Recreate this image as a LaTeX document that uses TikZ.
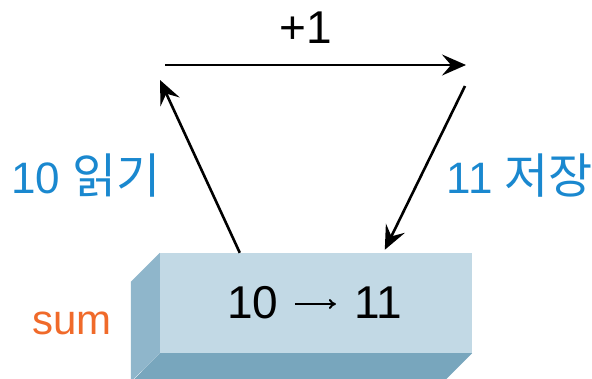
\documentclass[tikz,border=0pt]{standalone}
\usepackage{fontspec}
\setmainfont{Liberation Sans}
\newfontfamily\kofont{Noto Sans CJK KR}
\usetikzlibrary{arrows.meta}

\definecolor{facefront}{HTML}{C2D9E5}
\definecolor{faceleft}{HTML}{8FB6CB}
\definecolor{facebottom}{HTML}{78A6BD}
\definecolor{labelblue}{HTML}{1A88CF}
\definecolor{labelorange}{HTML}{F06A2A}

\tikzset{
  flow/.style={line width=2.6pt, -{Stealth[length=24pt, width=21pt, inset=9pt]}},
  steplabel/.style={text=labelblue, anchor=base, font=\fontsize{44}{48}\selectfont},
  digits/.style={anchor=base, font=\fontsize{46}{50}\selectfont, inner sep=0pt},
}

\begin{document}
\begin{tikzpicture}[x=1pt, y=-1pt]
  \clip (0,0) rectangle (592,378);

  % Draw the memory cell
  \node[fill=facefront, minimum width=312pt, minimum height=100pt, inner sep=0pt]
    (cell) at (316,303) {};
  \fill[faceleft] (cell.north west) -- ++(-29,29) -- ++(0,100) -- (cell.south west) -- cycle;
  \fill[facebottom] (cell.south west) -- (cell.south east) -- ++(-29,29) -- ++(-312,0) -- cycle;
  \node[digits] (old) at (253,318) {10};
  \node[digits] (new) at (378,318) {11};
  \draw[line width=2pt, -{To[length=7pt, width=10pt]}] ([xshift=16pt, yshift=14pt]old.base east) -- ([xshift=-18pt, yshift=14pt]new.base west);
  \node[anchor=base, text=labelorange, font=\fontsize{42}{46}\selectfont] (name) at (72,334) {sum};

  % Draw the read, add and write steps
  \coordinate (readend) at (160,80);
  \coordinate (addstart) at (165,65);
  \coordinate (addend) at (466,65);
  \coordinate (writestart) at (465,86);
  \draw[flow] ([xshift=80pt]cell.north west) -- (readend);
  \draw[flow] (addstart) -- (addend);
  \draw[flow] (writestart) -- ([xshift=225pt, yshift=3pt]cell.north west);

  % Label the steps
  \node[anchor=base, font=\fontsize{46}{50}\selectfont] (plusone) at (306,43) {+1};
  \node[steplabel] (read) at (86,193) {10 {\kofont\fontsize{48}{52}\selectfont 읽기}};
  \node[steplabel] (write) at (520,193) {11 {\kofont\fontsize{48}{52}\selectfont 저장}};
\end{tikzpicture}
\end{document}
